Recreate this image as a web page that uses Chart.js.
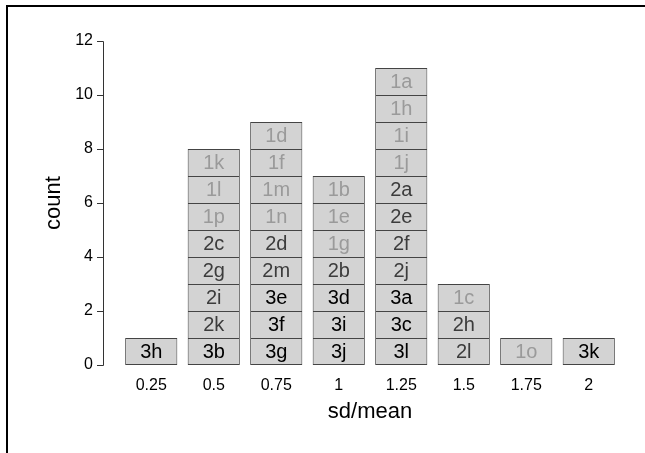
<!DOCTYPE html>
<html>
<head>
<meta charset="utf-8">
<script src="https://cdn.jsdelivr.net/npm/chart.js@4.4.1/dist/chart.umd.min.js"></script>
<style>
  body { margin: 0; background: #fff; }
  canvas { display: block; }
</style>
</head>
<body>
<canvas id="histChart" width="645" height="453"></canvas>
<script>
// bins of sd/mean
var categories = ['0.25', '0.5', '0.75', '1', '1.25', '1.5', '1.75', '2'];

// stacked items per bin, bottom to top
var bin025 = ['3h'];
var bin050 = ['3b', '2k', '2i', '2g', '2c', '1p', '1l', '1k'];
var bin075 = ['3g', '3f', '3e', '2m', '2d', '1n', '1m', '1f', '1d'];
var bin100 = ['3j', '3i', '3d', '2b', '1g', '1e', '1b'];
var bin125 = ['3l', '3c', '3a', '2j', '2f', '2e', '2a', '1j', '1i', '1h', '1a'];
var bin150 = ['2l', '2h', '1c'];
var bin175 = ['1o'];
var bin200 = ['3k'];
var stacks = [bin025, bin050, bin075, bin100, bin125, bin150, bin175, bin200];

var yTicks = [0, 2, 4, 6, 8, 10, 12];

var labelColors = { '1': '#9a9a9a', '2': '#3c3c3c', '3': '#000000' };

var maxLevel = Math.max.apply(null, stacks.map(function (s) { return s.length; }));
var datasets = [];
for (var k = 0; k < maxLevel; k++) {
    datasets.push({
        label: 'level ' + (k + 1),
        data: stacks.map(function (s) { return s.length > k ? 1 : null; }),
        backgroundColor: '#d3d3d3',
        borderColor: '#444444',
        // only the lowest box draws a bottom edge, so shared edges stay 1px
        borderWidth: k === 0 ? 1 : { top: 1, left: 1, right: 1, bottom: 0 },
        borderSkipped: false,
        barPercentage: 0.835,
        categoryPercentage: 1.0
    });
}

// frame, y axis and box labels
var extras = {
    id: 'extras',
    afterDatasetsDraw: function (chart) {
        var ctx = chart.ctx;
        ctx.save();
        // box labels
        ctx.font = '20px "Liberation Sans", Arial, sans-serif';
        ctx.textAlign = 'center';
        ctx.textBaseline = 'middle';
        chart.data.datasets.forEach(function (ds, k) {
            var meta = chart.getDatasetMeta(k);
            meta.data.forEach(function (bar, i) {
                if (ds.data[i] == null) return;
                var txt = stacks[i][k];
                ctx.fillStyle = labelColors[txt.charAt(0)];
                ctx.fillText(txt, bar.x, (bar.y + bar.base) / 2 + 1);
            });
        });

        // y axis
        var y = chart.scales.y;
        var ax = 103;
        ctx.strokeStyle = '#333';
        ctx.lineWidth = 1;
        ctx.beginPath();
        ctx.moveTo(ax + 0.5, Math.round(y.getPixelForValue(yTicks[0])) + 0.5);
        ctx.lineTo(ax + 0.5, Math.round(y.getPixelForValue(yTicks[yTicks.length - 1])) + 0.5);
        yTicks.forEach(function (t) {
            var py = Math.round(y.getPixelForValue(t)) + 0.5;
            ctx.moveTo(ax - 6, py);
            ctx.lineTo(ax + 0.5, py);
        });
        ctx.stroke();
        ctx.fillStyle = '#000';
        ctx.font = '16px "Liberation Sans", Arial, sans-serif';
        ctx.textAlign = 'right';
        yTicks.forEach(function (t) {
            ctx.fillText(String(t), ax - 10, y.getPixelForValue(t));
        });

        // y title
        ctx.font = '22px "Liberation Sans", Arial, sans-serif';
        ctx.textAlign = 'center';
        ctx.translate(54, 203);
        ctx.rotate(-Math.PI / 2);
        ctx.fillText('count', 0, 0);
        ctx.restore();

        // outer frame (left and top)
        ctx.save();
        ctx.fillStyle = '#000';
        ctx.fillRect(6, 5, chart.width - 6, 2);
        ctx.fillRect(6, 5, 2, chart.height - 5);
        ctx.restore();
    }
};

new Chart(document.getElementById('histChart'), {
    type: 'bar',
    data: { labels: categories, datasets: datasets },
    options: {
        responsive: false,
        animation: false,
        layout: { padding: { left: 120, right: 25, top: 41, bottom: 18 } },
        plugins: {
            legend: { display: false },
            tooltip: { enabled: false }
        },
        scales: {
            x: {
                stacked: true,
                grid: { display: false },
                border: { display: false },
                // fixed height keeps 27px per count unit
                afterFit: function (scale) { scale.height = 70; },
                ticks: {
                    color: '#000',
                    padding: 3,
                    font: { family: '"Liberation Sans", Arial, sans-serif', size: 16 }
                },
                title: {
                    display: true,
                    text: 'sd/mean',
                    color: '#000',
                    padding: { top: 3, bottom: 10 },
                    font: { family: '"Liberation Sans", Arial, sans-serif', size: 22 }
                }
            },
            y: {
                stacked: true,
                display: false,
                min: 0,
                max: 12
            }
        }
    },
    plugins: [extras]
});
</script>
</body>
</html>
